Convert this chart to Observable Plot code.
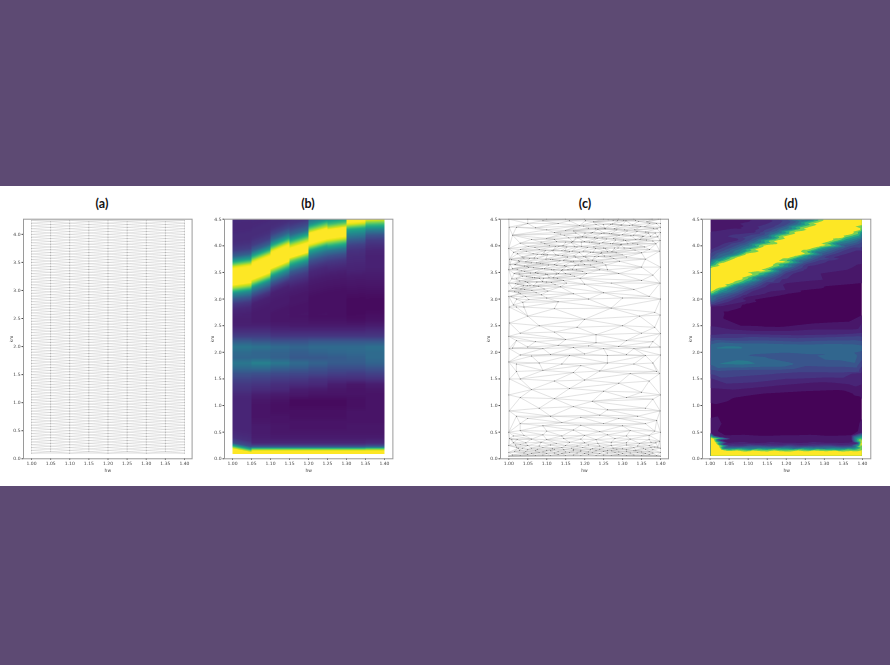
<!DOCTYPE html>
<html><head><meta charset="utf-8">
<script src="https://cdn.jsdelivr.net/npm/d3@7"></script>
<script src="https://cdn.jsdelivr.net/npm/@observablehq/plot@0.6"></script>
<style>
html,body{margin:0;padding:0;width:890px;height:665px;background:#5d4a73;overflow:hidden}
#band{position:absolute;left:0;top:186px;width:890px;height:300px;background:#fff}
.panel{position:absolute;filter:blur(.35px)}
.ttl{position:absolute;top:196px;width:60px;text-align:center;font:700 12.5px Lato,sans-serif;color:#111}
svg text{fill:#444}
</style></head><body>
<div id="band"></div>
<script>
// ---- axis labels / ticks
const titles = ["(a)", "(b)", "(c)", "(d)"];
const xTicks = [1.0, 1.05, 1.1, 1.15, 1.2, 1.25, 1.3, 1.35, 1.4];
const yTicksA = [0, 0.5, 1, 1.5, 2, 2.5, 3, 3.5, 4];
const yTicksB = [0, 0.5, 1, 1.5, 2, 2.5, 3, 3.5, 4, 4.5];
const xLabel = "hw", yLabel = "km";

// ---- panel (a): regular staggered mesh
const gridColumns = [1.0, 1.05, 1.1, 1.15, 1.2, 1.25, 1.3, 1.35, 1.4];
const gridYEven = [0.10,0.15,0.20,0.25,0.30,0.35,0.40,0.45,0.50,0.55,0.60,0.65,0.70,0.75,0.80,0.85,0.90,0.95,1.00,1.05,1.10,1.15,1.20,1.25,1.30,1.35,1.40,1.45,1.50,1.55,1.60,1.65,1.70,1.75,1.80,1.85,1.90,1.95,2.00,2.05,2.10,2.15,2.20,2.25,2.30,2.35,2.40,2.45,2.50,2.55,2.60,2.65,2.70,2.75,2.80,2.85,2.90,2.95,3.00,3.05,3.10,3.15,3.20,3.25,3.30,3.35,3.40,3.45,3.50,3.55,3.60,3.65,3.70,3.75,3.80,3.85,3.90,3.95,4.00,4.05,4.10,4.15,4.20,4.25];
const gridYOdd = [0.125,0.175,0.225,0.275,0.325,0.375,0.425,0.475,0.525,0.575,0.625,0.675,0.725,0.775,0.825,0.875,0.925,0.975,1.025,1.075,1.125,1.175,1.225,1.275,1.325,1.375,1.425,1.475,1.525,1.575,1.625,1.675,1.725,1.775,1.825,1.875,1.925,1.975,2.025,2.075,2.125,2.175,2.225,2.275,2.325,2.375,2.425,2.475,2.525,2.575,2.625,2.675,2.725,2.775,2.825,2.875,2.925,2.975,3.025,3.075,3.125,3.175,3.225,3.275,3.325,3.375,3.425,3.475,3.525,3.575,3.625,3.675,3.725,3.775,3.825,3.875,3.925,3.975,4.025,4.075,4.125,4.175,4.225];

// ---- panel (b): value per strip (8 columns) for each y row
const stripY = [0.09,0.15,0.19,0.22,0.26,0.3,0.4,0.5,0.6,0.7,0.8,0.9,1.0,1.1,1.2,1.3,1.4,1.5,1.6,1.7,1.8,1.9,2.0,2.1,2.2,2.3,2.4,2.5,2.6,2.7,2.8,2.9,3.0,3.1,3.2,3.3,3.4,3.5,3.6,3.7,3.8,3.9,4.0,4.1,4.2,4.3,4.4,4.5];
const stripValues = [
[1.1,1.1,1.1,1.1,1.1,1.1,1.1,1.1],
[1.1,1,1,1,1,1,1,1],
[1,.7,.7,.7,.7,.7,.7,.75],
[.8,.32,.32,.32,.32,.32,.32,.36],
[.5,.18,.18,.18,.18,.18,.18,.2],
[.25,.12,.12,.12,.12,.12,.12,.13],
[.15,.1,.09,.09,.09,.09,.09,.09],
[.13,.09,.08,.08,.08,.08,.08,.08],
[.12,.09,.08,.07,.07,.07,.08,.08],
[.12,.08,.07,.07,.07,.07,.07,.07],
[.12,.07,.07,.06,.06,.06,.07,.07],
[.12,.07,.06,.06,.06,.06,.07,.07],
[.12,.07,.06,.05,.05,.05,.06,.07],
[.12,.08,.07,.05,.05,.05,.06,.07],
[.13,.1,.09,.08,.07,.07,.07,.07],
[.16,.14,.13,.1,.09,.08,.07,.08],
[.18,.17,.15,.14,.13,.1,.08,.1],
[.22,.21,.19,.18,.16,.15,.15,.16],
[.27,.26,.24,.23,.22,.2,.19,.21],
[.35,.36,.32,.3,.27,.25,.25,.27],
[.41,.45,.41,.36,.33,.3,.3,.33],
[.34,.34,.32,.29,.29,.3,.32,.36],
[.36,.34,.33,.31,.33,.34,.35,.36],
[.41,.39,.36,.34,.36,.36,.36,.38],
[.31,.29,.27,.27,.29,.29,.29,.29],
[.2,.2,.18,.18,.18,.18,.18,.18],
[.15,.15,.13,.13,.13,.13,.13,.14],
[.11,.11,.1,.09,.09,.09,.09,.1],
[.1,.09,.08,.08,.07,.07,.06,.07],
[.11,.09,.08,.07,.06,.06,.05,.06],
[.13,.1,.09,.07,.06,.06,.05,.05],
[.18,.11,.09,.08,.06,.06,.05,.05],
[.3,.17,.1,.08,.06,.06,.05,.05],
[.5,.3,.11,.09,.07,.06,.06,.06],
[.85,.5,.17,.11,.08,.07,.07,.07],
[1.1,.85,.3,.15,.09,.08,.08,.08],
[1.1,1.1,.5,.2,.11,.09,.09,.09],
[1.1,1.1,.8,.3,.13,.11,.11,.1],
[.95,1.1,1.1,.5,.18,.14,.12,.11],
[.6,.95,1.1,.75,.26,.18,.13,.11],
[.32,.6,1.1,1.1,.4,.26,.14,.11],
[.2,.32,.95,1.1,.6,.4,.16,.12],
[.16,.2,.6,.9,.95,.65,.21,.15],
[.14,.16,.35,.6,1.1,.95,.31,.19],
[.14,.14,.22,.35,1.1,1.1,.45,.28],
[.13,.14,.16,.24,.8,1,.6,.45],
[.13,.13,.14,.17,.5,.7,.95,.7],
[.14,.14,.14,.15,.35,.5,1.1,1]];
const stripRise = [.05,.14,.15,.11,.1,.05,.03,.01];
const stripRiseLow = [-.07,0,0,0,0,0,0,0];

// ---- panels (c),(d): scattered samples [x, y, z]
const edgeLeft = [[1,.05,1.2],[1,.12,1.2],[1,.25,1.2],[1.002,.38,1.2],[1,.5,.1],[1.001,.9,.07],[1,1.2,.09],[1.002,1.5,.16],[1,1.82,.38],[1.001,2.07,.42],[1,2.3,.18],[1.002,2.55,.1],[1.001,2.85,.11],[1,3.05,.5],[1,3.15,1.1],[1,3.3,1.2],[1,3.55,1.2],[1.003,3.65,.6],[1.002,3.75,.3],[1,3.95,.15],[1.001,4.35,.11],[1,4.5,.11]];
const edgeRight = [[1.4,.05,1.2],[1.4,.12,1.2],[1.4,.2,.9],[1.398,.33,1.1],[1.4,.5,.12],[1.399,.9,.06],[1.4,1.2,.09],[1.398,1.6,.15],[1.4,1.95,.32],[1.399,2.1,.36],[1.4,2.35,.18],[1.399,2.7,.08],[1.4,3,.07],[1.399,3.3,.08],[1.4,3.6,.11],[1.398,3.9,.16],[1.399,4.1,.3],[1.4,4.25,.5],[1.4,4.35,.8],[1.4,4.42,1.2],[1.4,4.5,1.2]];
const bandZA = [.18,.4,.72,1.15,1.2,1.2,1.2,1.2,.85,.45,.24];
const bandZB = [.29,.55,.9,1.2,1.2,1.2,1.2,1.05,.62,.32];
const bandColumnsA = [
[[1.012,1.006,1.015,1.009,1.017,1.008,1.014,1.01,1.016,1.007,1.013],[2.89,3.05,3.14,3.20,3.29,3.38,3.48,3.57,3.65,3.74,3.88]],
[[1.037,1.03,1.032,1.039,1.029,1.036,1.033,1.041,1.028,1.035,1.031],[2.94,3.10,3.19,3.25,3.34,3.43,3.53,3.62,3.70,3.79,3.93]],
[[1.053,1.061,1.056,1.05,1.063,1.057,1.052,1.06,1.055,1.064,1.051],[2.99,3.16,3.25,3.31,3.40,3.49,3.59,3.68,3.76,3.85,3.99]],
[[1.086,1.079,1.089,1.081,1.077,1.088,1.083,1.076,1.087,1.08,1.085],[3.08,3.24,3.33,3.39,3.48,3.57,3.67,3.76,3.84,3.93,4.07]],
[[1.103,1.112,1.106,1.101,1.113,1.105,1.11,1.102,1.114,1.107,1.1],[3.15,3.31,3.40,3.46,3.55,3.64,3.74,3.83,3.91,4.00,4.14]],
[[1.136,1.128,1.131,1.139,1.127,1.135,1.13,1.14,1.132,1.126,1.137],[3.23,3.39,3.48,3.54,3.63,3.72,3.82,3.91,3.99,4.08,4.22]],
[[1.152,1.162,1.156,1.151,1.164,1.155,1.16,1.153,1.165,1.158,1.15],[3.30,3.46,3.55,3.61,3.70,3.79,3.89,3.98,4.06,4.15,4.29]],
[[1.188,1.178,1.183,1.19,1.176,1.186,1.18,1.191,1.182,1.177,1.187],[3.39,3.55,3.64,3.70,3.79,3.88,3.98,4.07,4.15,4.24,4.38]],
[[1.205,1.215,1.209,1.203,1.216,1.207,1.213,1.204,1.217,1.21,1.202],[3.48,3.64,3.73,3.79,3.88,3.97,4.07,4.16,4.24,4.33,4.47]],
[[1.24,1.231,1.236,1.243,1.229,1.239,1.233,1.244,1.235,1.23],[3.55,3.71,3.80,3.86,3.95,4.04,4.14,4.23,4.31,4.40]],
[[1.256,1.267,1.26,1.254,1.268,1.258,1.265,1.255,1.269,1.262],[3.64,3.80,3.89,3.95,4.04,4.13,4.23,4.32,4.40,4.49]],
[[1.292,1.283,1.288,1.295,1.281,1.291,1.285,1.296,1.287],[3.71,3.87,3.96,4.02,4.11,4.20,4.30,4.39,4.47]],
[[1.31,1.32,1.314,1.308,1.322,1.312,1.318,1.309],[3.79,3.95,4.04,4.10,4.19,4.28,4.38,4.47]],
[[1.35,1.34,1.346,1.353,1.338,1.348,1.342],[3.87,4.03,4.12,4.18,4.27,4.36,4.46]],
[[1.371,1.38,1.374,1.368,1.382,1.372,1.378],[3.93,4.09,4.18,4.24,4.33,4.42,4.5]]];
const bandColumnsB = [
[[1.021,1.026,1.019,1.024,1.02,1.027,1.022,1.018,1.025,1.023],[3.00,3.13,3.20,3.28,3.38,3.47,3.56,3.65,3.72,3.85]],
[[1.044,1.042,1.049,1.043,1.047,1.041,1.048,1.045,1.04,1.046],[3.05,3.18,3.25,3.33,3.43,3.52,3.61,3.70,3.77,3.90]],
[[1.072,1.066,1.074,1.068,1.07,1.065,1.073,1.067,1.075,1.069],[3.12,3.25,3.32,3.40,3.50,3.59,3.68,3.77,3.84,3.97]],
[[1.093,1.099,1.091,1.097,1.094,1.09,1.098,1.092,1.096,1.095],[3.19,3.32,3.39,3.47,3.57,3.66,3.75,3.84,3.91,4.04]],
[[1.122,1.117,1.125,1.119,1.121,1.116,1.124,1.118,1.123,1.12],[3.27,3.40,3.47,3.55,3.65,3.74,3.83,3.92,3.99,4.12]],
[[1.144,1.149,1.142,1.147,1.145,1.141,1.148,1.143,1.15,1.146],[3.35,3.48,3.55,3.63,3.73,3.82,3.91,4.00,4.07,4.20]],
[[1.173,1.168,1.175,1.17,1.172,1.167,1.174,1.169,1.176,1.171],[3.43,3.56,3.63,3.71,3.81,3.90,3.99,4.08,4.15,4.28]],
[[1.195,1.2,1.193,1.198,1.196,1.192,1.199,1.194,1.201,1.197],[3.52,3.65,3.72,3.80,3.90,3.99,4.08,4.17,4.24,4.37]],
[[1.225,1.22,1.227,1.222,1.224,1.219,1.226,1.221,1.228,1.223],[3.60,3.73,3.80,3.88,3.98,4.07,4.16,4.25,4.32,4.45]],
[[1.247,1.252,1.245,1.25,1.248,1.246,1.251,1.253,1.249],[3.68,3.81,3.88,3.96,4.06,4.15,4.24,4.33,4.40]],
[[1.277,1.272,1.279,1.274,1.276,1.271,1.278,1.273,1.275],[3.76,3.89,3.96,4.04,4.14,4.23,4.32,4.41,4.48]],
[[1.299,1.304,1.297,1.302,1.3,1.305,1.298,1.303],[3.83,3.96,4.03,4.11,4.21,4.30,4.39,4.48]],
[[1.333,1.327,1.335,1.329,1.332,1.326,1.334],[3.92,4.05,4.12,4.20,4.30,4.39,4.48]],
[[1.358,1.363,1.356,1.361,1.359,1.364],[3.98,4.11,4.18,4.26,4.36,4.45]],
[[1.388,1.393,1.386,1.391,1.389,1.394],[4.04,4.17,4.24,4.32,4.42,4.5]]];
const upperSamples = [[1.02,4.35,.11],[1.06,4.12,.12],[1.05,4.42,.11],[1.1,4.3,.13],[1.09,4.47,.11],[1.13,4.42,.14],[1.16,4.47,.16],[1.03,4.05,.15],[1.01,4.2,.13],[1.07,4.34,.11],[1.12,4.25,.17],[1.05,4.5,.11],[1.1,4.5,.11],[1.15,4.5,.16],[1.2,4.5,.27],[1.25,4.5,.6],[1.29,4.5,.95],[1.33,4.5,1.2]];
const lowerBandSamples = [[1.04,2.85,.09],[1.13,2.95,.07],[1.21,3,.06],[1.3,3.02,.06],[1.37,3.05,.06],[1.1,3.02,.09],[1.17,3.1,.09],[1.25,3.12,.07],[1.33,3.18,.07],[1.2,3.28,.11],[1.27,3.3,.09],[1.35,3.35,.09],[1.38,3.45,.1],[1.29,3.48,.12],[1.35,3.6,.13],[1.36,3.75,.14],[1.26,3.55,.14]];
const middleSamples = [
[1.02,2.85,.09],[1.12,2.82,.07],[1.27,2.83,.06],[1.385,2.75,.06],
[1.05,2.68,.07],[1.2,2.62,.06],[1.345,2.68,.06],
[1.08,2.5,.08],[1.18,2.47,.08],[1.3,2.5,.09],[1.385,2.47,.1],
[1.03,2.36,.16],[1.12,2.38,.13],[1.23,2.33,.16],[1.35,2.36,.15],
[1.02,2.22,.3],[1.07,2.2,.3],[1.15,2.24,.26],[1.23,2.18,.3],[1.31,2.22,.28],[1.38,2.2,.3],
[1.01,2.08,.42],[1.05,2.1,.44],[1.09,2.07,.42],[1.13,2.13,.38],[1.17,2.09,.38],[1.21,2.12,.38],[1.25,2.07,.38],[1.29,2.11,.38],[1.33,2.07,.38],[1.37,2.1,.38],
[1.03,1.95,.36],[1.06,1.93,.36],[1.11,1.96,.34],[1.16,1.94,.31],[1.2,1.97,.33],[1.26,1.94,.33],[1.31,1.96,.34],[1.36,1.94,.38],
[1.02,1.78,.42],[1.08,1.8,.46],[1.14,1.78,.4],[1.19,1.75,.36],[1.26,1.8,.31],[1.33,1.78,.31],[1.38,1.8,.34],
[1.02,1.64,.27],[1.09,1.66,.27],[1.17,1.62,.23],[1.24,1.65,.23],[1.32,1.6,.21],[1.39,1.64,.23],
[1.03,1.5,.21],[1.12,1.46,.18],[1.2,1.48,.16],[1.29,1.42,.11],[1.37,1.46,.14],
[1.06,1.3,.12],[1.16,1.32,.1],[1.25,1.27,.08],[1.35,1.25,.07],
[1.03,1.15,.09],[1.12,1.13,.06],[1.22,1.08,.05],[1.31,1.15,.05],[1.38,1.12,.06],
[1.08,.95,.06],[1.17,.98,.05],[1.26,.92,.05],[1.36,.95,.06],
[1.02,.8,.08],[1.05,.76,.07],[1.11,.8,.06],[1.19,.78,.06],[1.24,.82,.06],[1.29,.76,.06],[1.34,.8,.06],[1.39,.72,.07],
[1.03,.66,.08],[1.09,.62,.07],[1.14,.68,.06],[1.19,.63,.06],[1.25,.66,.06],[1.3,.62,.06],[1.36,.66,.07]];
const cornerSamples = [[1.012,.3,1.15],[1.02,.22,1.15],[1.028,.16,1.15],[1.015,.14,1.2],[1.008,.36,1.15],[1.018,.26,1.15],[1.025,.2,1.15],[1.036,.2,.4],[1.03,.27,.16],[1.022,.36,.13],[1.012,.43,.12],[1.393,.22,1],[1.385,.22,.4],[1.388,.3,.15]];
const bottomZ = [1.2,1.2,1.05,.75,.42,.2,.12,.09,.08,.07];
const bottomRows = [
[1.01,.07,1.03,.06,1.05,.08,1.07,.06,1.09,.07,1.11,.06,1.13,.08,1.15,.06,1.17,.07,1.19,.06,1.21,.08,1.23,.06,1.25,.07,1.27,.06,1.29,.08,1.31,.06,1.33,.07,1.35,.06,1.37,.08,1.39,.06],
[1.04,.11,1.06,.1,1.08,.12,1.1,.1,1.12,.11,1.14,.1,1.16,.12,1.18,.11,1.2,.1,1.22,.12,1.24,.1,1.26,.11,1.28,.12,1.3,.1,1.32,.11,1.34,.12,1.36,.1,1.38,.11],
[1.045,.14,1.07,.15,1.09,.13,1.11,.15,1.13,.14,1.15,.13,1.17,.15,1.19,.14,1.21,.13,1.23,.15,1.25,.14,1.27,.15,1.29,.13,1.31,.14,1.33,.15,1.35,.13,1.37,.14],
[1.05,.17,1.075,.18,1.1,.16,1.12,.18,1.145,.17,1.17,.18,1.19,.16,1.215,.17,1.24,.18,1.26,.16,1.285,.18,1.31,.17,1.335,.16,1.36,.18,1.38,.17],
[1.06,.2,1.09,.21,1.115,.19,1.14,.21,1.165,.2,1.195,.21,1.22,.19,1.25,.21,1.275,.2,1.3,.19,1.33,.21,1.355,.2,1.375,.21],
[1.05,.25,1.08,.24,1.11,.26,1.15,.25,1.18,.24,1.21,.26,1.24,.24,1.27,.25,1.31,.26,1.34,.24,1.37,.25],
[1.045,.3,1.085,.31,1.125,.29,1.16,.31,1.2,.3,1.235,.29,1.27,.31,1.31,.3,1.345,.29,1.375,.31],
[1.06,.37,1.1,.36,1.145,.38,1.19,.37,1.23,.36,1.28,.38,1.32,.37,1.37,.36],
[1.04,.44,1.09,.45,1.14,.43,1.2,.44,1.26,.45,1.31,.43,1.37,.44],
[1.03,.53,1.1,.52,1.17,.54,1.24,.51,1.32,.53,1.385,.52]];

// ---- build tables for the library
const gridPoints = gridColumns.flatMap((x, j) => (j % 2 ? gridYOdd : gridYEven).map(y => ({x, y})));
const toRow = ([x, y, z]) => ({x, y, z});
const samples = [
  ...edgeLeft.map(toRow), ...edgeRight.map(toRow), ...upperSamples.map(toRow),
  ...lowerBandSamples.map(toRow), ...middleSamples.map(toRow), ...cornerSamples.map(toRow),
  ...bandColumnsA.flatMap(([xs, ys]) => ys.map((y, i) => ({x: xs[i], y, z: bandZA[i]}))),
  ...bandColumnsB.flatMap(([xs, ys]) => ys.map((y, i) => ({x: xs[i], y, z: bandZB[i]}))),
  ...bottomRows.flatMap((r, k) => d3.range(0, r.length, 2).map(i => ({x: r[i], y: r[i + 1], z: bottomZ[k]})))
];

// triangulate in data space, as the mesh is wide and flat on screen
function meshEdges(pts) {
  const d = d3.Delaunay.from(pts, p => p.x, p => p.y), out = [], t = d.triangles;
  for (let i = 0; i < t.length; i++) {
    const j = i % 3 === 2 ? i - 2 : i + 1;
    if (d.halfedges[i] < i) { const a = pts[t[i]], b = pts[t[j]]; out.push({x1: a.x, y1: a.y, x2: b.x, y2: b.y}); }
  }
  return out;
}
function stripValue(x, y) {
  if (y < stripY[0]) return NaN;
  const i = Math.min(7, Math.floor((x - 1) / 0.05)), t = (x - 1 - i * 0.05) / 0.05;
  const rise = y < 1 ? stripRiseLow[i] : y > 2.7 ? stripRise[i] : 0;
  const yy = Math.min(4.5, Math.max(stripY[0], y - rise * t));
  let k = d3.bisectRight(stripY, yy); k = Math.min(k, stripY.length - 1);
  const u = (yy - stripY[k - 1]) / (stripY[k] - stripY[k - 1]);
  return stripValues[k - 1][i] * (1 - u) + stripValues[k][i] * u;
}
// barycentric interpolation on the data-space triangulation
const flatten = 53.2 / 380;
function dataSpaceBarycentric(index, w, h, X, Y, V) {
  const W = new Float64Array(w * h).fill(NaN);
  const d = d3.Delaunay.from(index, i => X[i] * flatten, i => Y[i]), t = d.triangles;
  for (let n = 0; n < t.length; n += 3) {
    const a = index[t[n]], b = index[t[n + 1]], c = index[t[n + 2]];
    const ax = X[a], ay = Y[a], bx = X[b], by = Y[b], cx = X[c], cy = Y[c];
    const den = (by - cy) * (ax - cx) + (cx - bx) * (ay - cy);
    if (!den) continue;
    const x0 = Math.max(0, Math.floor(Math.min(ax, bx, cx))), x1 = Math.min(w - 1, Math.ceil(Math.max(ax, bx, cx)));
    const y0 = Math.max(0, Math.floor(Math.min(ay, by, cy))), y1 = Math.min(h - 1, Math.ceil(Math.max(ay, by, cy)));
    for (let py = y0; py <= y1; py++) for (let px = x0; px <= x1; px++) {
      const fx = px + .5, fy = py + .5;
      const l1 = ((by - cy) * (fx - cx) + (cx - bx) * (fy - cy)) / den;
      const l2 = ((cy - ay) * (fx - cx) + (ax - cx) * (fy - cy)) / den;
      const l3 = 1 - l1 - l2;
      if (l1 >= -1e-6 && l2 >= -1e-6 && l3 >= -1e-6) W[px + py * w] = l1 * V[a] + l2 * V[b] + l3 * V[c];
    }
  }
  return W;
}

// ---- drawing
function panel(frameLeft, frameRight, x1At, x4At, yMax, yTicks, marks, titleCenter, title) {
  const ml = 24, mr = 5, mt = 6.7, mb = 22;
  const k = (x4At - x1At) / 0.4;
  const plot = Plot.plot({
    width: ml + mr + frameRight - frameLeft, height: mt + mb + 239.6,
    marginLeft: ml, marginRight: mr, marginTop: mt, marginBottom: mb,
    style: {fontFamily: "DejaVu Sans", fontSize: "4.5px", background: "transparent", color: "#444"},
    x: {domain: [1 - (x1At - frameLeft) / k, 1.4 + (frameRight - x4At) / k], ticks: xTicks, tickFormat: ".2f", tickSize: 1.5, tickPadding: 1.5, label: xLabel, labelAnchor: "center", labelArrow: "none", labelOffset: 13},
    y: {domain: [0, yMax], ticks: yTicks, tickFormat: ".1f", tickSize: 1.5, tickPadding: 1.5, label: yLabel, labelAnchor: "center", labelArrow: "none", labelOffset: 14},
    color: {type: "linear", scheme: "viridis", domain: [.02, 1], clamp: true},
    marks: [...marks, Plot.frame({stroke: "#9a9a9a", strokeWidth: 1})]
  });
  plot.classList.add("panel");
  plot.style.left = (frameLeft - ml) + "px";
  plot.style.top = (218.7 - mt) + "px";
  document.body.appendChild(plot);
  const t = document.createElement("div");
  t.className = "ttl"; t.textContent = title; t.style.left = (titleCenter - 30) + "px";
  document.body.appendChild(t);
}

panel(22.7, 191.3, 30.7, 183.7, 4.27, yTicksA, [
  Plot.link(meshEdges(gridPoints), {x1: "x1", y1: "y1", x2: "x2", y2: "y2", stroke: "#aaa", strokeWidth: .3}),
  Plot.dot(gridPoints, {x: "x", y: "y", r: .3, fill: "#666"})
], 102, titles[0]);

panel(224.3, 392.7, 232.3, 384.3, 4.5, yTicksB, [
  Plot.raster({fill: stripValue, x1: 1, x2: 1.4, y1: 0.09, y2: 4.5, pixelSize: 1})
], 308, titles[1]);

panel(500, 668, 508.3, 660, 4.5, yTicksB, [
  Plot.link(meshEdges(samples), {x1: "x1", y1: "y1", x2: "x2", y2: "y2", stroke: "#aaa", strokeWidth: .35}),
  Plot.dot(samples, {x: "x", y: "y", r: .45, fill: "#333"})
], 585, titles[2]);

panel(701.7, 870, 709.3, 861.7, 4.5, yTicksB, [
  Plot.contour(samples, {x: "x", y: "y", fill: "z", interpolate: dataSpaceBarycentric, thresholds: [.03, .08, .12, .17, .22, .28, .34, .42, .52, .65, .8, 1], pixelSize: 1, x1: .99, x2: 1.41, y1: 0.03, y2: 4.5, stroke: "none"})
], 791, titles[3]);
</script>
</body></html>
